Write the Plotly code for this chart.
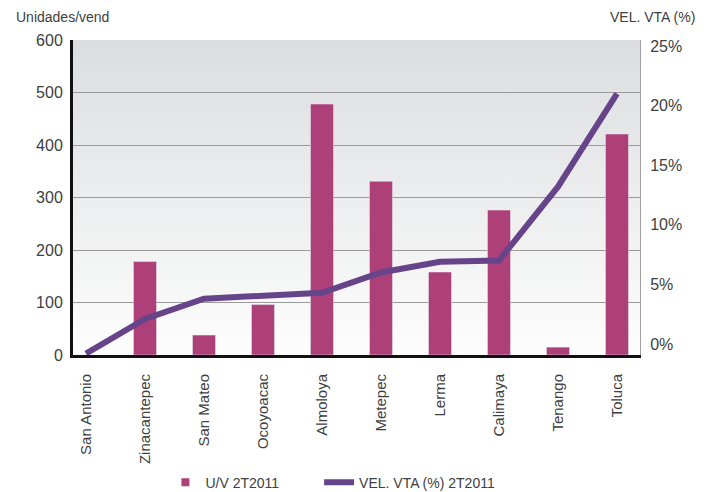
import plotly.graph_objects as go

# Municipios y valores del periodo 2T2011
municipios = ["San Antonio", "Zinacantepec", "San Mateo", "Ocoyoacac", "Almoloya",
              "Metepec", "Lerma", "Calimaya", "Tenango", "Toluca"]
unidades_vend = [0, 178, 38, 96, 478, 331, 158, 276, 15, 421]
vel_vta_pct = [-0.8, 2.1, 3.8, 4.0, 4.3, 6.0, 6.9, 7.0, 13.2, 21.0]

y_ticks = [0, 100, 200, 300, 400, 500, 600]
y2_ticks = [0, 5, 10, 15, 20, 25]
y2_labels = [f"{v}%" for v in y2_ticks]

BAR_COLOR = "#AE4079"
LINE_COLOR = "#67448A"
TEXT_COLOR = "#404040"
FONT = "Liberation Sans, Arial, sans-serif"

# Degradado vertical del fondo del área de trazado (SVG embebido)
gradient_svg = (
    "data:image/svg+xml;utf8,"
    "<svg xmlns='http://www.w3.org/2000/svg' width='10' height='100' preserveAspectRatio='none'>"
    "<defs><linearGradient id='g' x1='0' y1='0' x2='0' y2='1'>"
    "<stop offset='0' stop-color='%23DCDDDF'/>"
    "<stop offset='1' stop-color='%23FDFDFD'/>"
    "</linearGradient></defs>"
    "<rect width='10' height='100' fill='url(%23g)'/></svg>"
)

fig = go.Figure()

fig.add_trace(go.Bar(
    x=municipios, y=unidades_vend, marker_color=BAR_COLOR, width=0.39,
    name="U/V 2T2011", showlegend=False, legendgroup="uv",
))
# Entrada de leyenda con marcador cuadrado pequeño para las barras
fig.add_trace(go.Scatter(
    x=[None], y=[None], mode="markers", name="U/V 2T2011", legendgroup="uv",
    marker=dict(symbol="square", size=8, color=BAR_COLOR), legend="legend",
))
fig.add_trace(go.Scatter(
    x=municipios, y=vel_vta_pct, yaxis="y2", mode="lines",
    line=dict(color=LINE_COLOR, width=6), name="VEL. VTA (%) 2T2011",
    legend="legend2",
))

legend_style = dict(orientation="h", xanchor="left", y=-0.405, yanchor="middle",
                    font=dict(size=14), bgcolor="rgba(0,0,0,0)")

fig.update_layout(
    width=713, height=492,
    margin=dict(l=73, r=73, t=40, b=137, autoexpand=False),
    paper_bgcolor="white",
    plot_bgcolor="rgba(0,0,0,0)",
    font=dict(family=FONT, color=TEXT_COLOR, size=16),
    images=[dict(source=gradient_svg, xref="paper", yref="paper", x=0, y=1,
                 sizex=1, sizey=1, sizing="stretch", layer="below")],
    xaxis=dict(
        range=[-0.22, 9.39], tickangle=-90, tickfont=dict(size=15),
        showline=True, linecolor="#111111", linewidth=3, ticks="",
        ticklabelstandoff=10, showgrid=False, automargin=False,
    ),
    yaxis=dict(
        range=[0, 600], tickvals=y_ticks, showgrid=True, gridcolor="#9A9A9A",
        gridwidth=1, showline=True, linecolor="#111111", linewidth=3,
        ticks="", ticklabelstandoff=4, zeroline=False, automargin=False,
    ),
    yaxis2=dict(
        range=[-0.92, 25.5], overlaying="y", side="right", tickvals=y2_ticks,
        ticktext=y2_labels, showgrid=False, showline=True, linecolor="#A0A0A0",
        linewidth=1, ticks="", ticklabelstandoff=6, zeroline=False,
        automargin=False,
    ),
    legend=dict(x=0.163, **legend_style),
    legend2=dict(x=0.434, **legend_style),
    annotations=[
        dict(text="Unidades/vend", xref="paper", yref="paper",
             x=(14 - 73) / 567, y=1 + (40 - 17) / 315, xanchor="left",
             yanchor="middle", showarrow=False, font=dict(size=14)),
        dict(text="VEL. VTA (%)", xref="paper", yref="paper",
             x=(697 - 73) / 567, y=1 + (40 - 17) / 315, xanchor="right",
             yanchor="middle", showarrow=False, font=dict(size=14)),
    ],
)

fig.write_html("out.html")
